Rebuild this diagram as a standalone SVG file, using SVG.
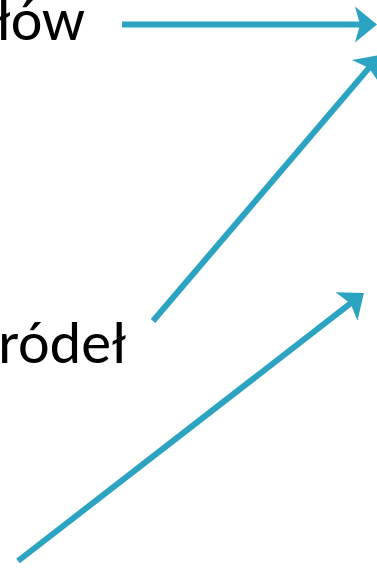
<svg xmlns="http://www.w3.org/2000/svg" width="377" height="568" viewBox="0 0 377 568">
<style>
.lbl{font-family:Carlito,"Lato","Open Sans",sans-serif;font-size:60px;fill:#000;text-anchor:end}
.conn{stroke:#2BA3C1;stroke-width:6;fill:none;marker-end:url(#ah)}
</style>
<defs>
<marker id="ah" markerUnits="userSpaceOnUse" markerWidth="24" markerHeight="38" viewBox="0 0 24 38" refX="13" refY="19" orient="auto">
<path d="M1,1 L23,19 L1,37 L6,19 Z" fill="#2BA3C1"/>
</marker>
</defs>
<g id="node-low"><text class="lbl" x="85" y="40">łów</text></g>
<g id="node-zrodel"><text class="lbl" x="126" y="363">ródeł</text></g>
<g id="connectors">
<line class="conn" x1="122" y1="24.5" x2="367" y2="24.5"/>
<line class="conn" x1="153" y1="321" x2="373.5" y2="62.6"/>
<line class="conn" x1="18" y1="561" x2="356" y2="299.2"/>
</g>
</svg>
